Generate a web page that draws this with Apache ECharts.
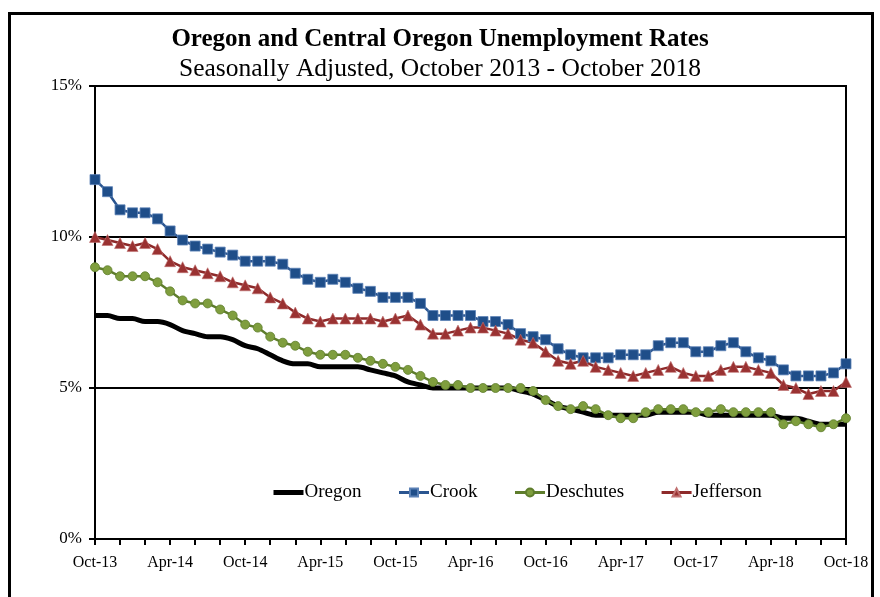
<!DOCTYPE html>
<html><head><meta charset="utf-8">
<script src="https://cdn.jsdelivr.net/npm/echarts@6/dist/echarts.min.js"></script>
<style>html,body{margin:0;padding:0;background:#fff}#c{width:880px;height:597px}</style>
</head><body><div id="c"></div>
<script>
const months = ["Oct-13","Nov-13","Dec-13","Jan-14","Feb-14","Mar-14","Apr-14","May-14","Jun-14","Jul-14","Aug-14","Sep-14",
"Oct-14","Nov-14","Dec-14","Jan-15","Feb-15","Mar-15","Apr-15","May-15","Jun-15","Jul-15","Aug-15","Sep-15",
"Oct-15","Nov-15","Dec-15","Jan-16","Feb-16","Mar-16","Apr-16","May-16","Jun-16","Jul-16","Aug-16","Sep-16",
"Oct-16","Nov-16","Dec-16","Jan-17","Feb-17","Mar-17","Apr-17","May-17","Jun-17","Jul-17","Aug-17","Sep-17",
"Oct-17","Nov-17","Dec-17","Jan-18","Feb-18","Mar-18","Apr-18","May-18","Jun-18","Jul-18","Aug-18","Sep-18","Oct-18"];

const oregon = [7.4,7.4,7.3,7.3,7.2,7.2,7.1,6.9,6.8,6.7,6.7,6.6,
6.4,6.3,6.1,5.9,5.8,5.8,5.7,5.7,5.7,5.7,5.6,5.5,
5.4,5.2,5.1,5.0,5.0,5.0,5.0,5.0,5.0,5.0,4.9,4.8,
4.6,4.4,4.3,4.2,4.1,4.1,4.1,4.1,4.1,4.2,4.2,4.2,
4.2,4.1,4.1,4.1,4.1,4.1,4.1,4.0,4.0,3.9,3.8,3.8,3.8];

const crook = [11.9,11.5,10.9,10.8,10.8,10.6,10.2,9.9,9.7,9.6,9.5,9.4,
9.2,9.2,9.2,9.1,8.8,8.6,8.5,8.6,8.5,8.3,8.2,8.0,
8.0,8.0,7.8,7.4,7.4,7.4,7.4,7.2,7.2,7.1,6.8,6.7,
6.6,6.3,6.1,6.0,6.0,6.0,6.1,6.1,6.1,6.4,6.5,6.5,
6.2,6.2,6.4,6.5,6.2,6.0,5.9,5.6,5.4,5.4,5.4,5.5,5.8];

const deschutes = [9.0,8.9,8.7,8.7,8.7,8.5,8.2,7.9,7.8,7.8,7.6,7.4,
7.1,7.0,6.7,6.5,6.4,6.2,6.1,6.1,6.1,6.0,5.9,5.8,
5.7,5.6,5.4,5.2,5.1,5.1,5.0,5.0,5.0,5.0,5.0,4.9,
4.6,4.4,4.3,4.4,4.3,4.1,4.0,4.0,4.2,4.3,4.3,4.3,
4.2,4.2,4.3,4.2,4.2,4.2,4.2,3.8,3.9,3.8,3.7,3.8,4.0];

const jefferson = [10.0,9.9,9.8,9.7,9.8,9.6,9.2,9.0,8.9,8.8,8.7,8.5,
8.4,8.3,8.0,7.8,7.5,7.3,7.2,7.3,7.3,7.3,7.3,7.2,
7.3,7.4,7.1,6.8,6.8,6.9,7.0,7.0,6.9,6.8,6.6,6.5,
6.2,5.9,5.8,5.9,5.7,5.6,5.5,5.4,5.5,5.6,5.7,5.5,
5.4,5.4,5.6,5.7,5.7,5.6,5.5,5.1,5.0,4.8,4.9,4.9,5.2];

const titleText = "Oregon and Central Oregon Unemployment Rates";
const subtitleText = "Seasonally Adjusted, October 2013 - October 2018";
const seriesNames = ["Oregon","Crook","Deschutes","Jefferson"];

const FONT = "Liberation Serif";
const chart = echarts.init(document.getElementById('c'), null, {renderer:'canvas'});
chart.setOption({
  animation:false,
  backgroundColor:'#fff',
  graphic:[{type:'rect',shape:{x:9.5,y:13.5,width:863,height:600},style:{fill:'none',stroke:'#000',lineWidth:3},z:100}],
  title:[
    {text:titleText,left:'center',top:22,textStyle:{fontFamily:FONT,fontWeight:'bold',fontSize:25,color:'#000'}},
    {text:subtitleText,left:'center',top:51,textStyle:{fontFamily:FONT,fontWeight:'normal',fontSize:25.5,color:'#000'}}
  ],
  grid:{left:95,right:34,top:86,bottom:58,show:true,borderColor:'#000',borderWidth:2,backgroundColor:'transparent'},
  legend:{
    data:[
      {name:'Oregon',itemStyle:{opacity:0},lineStyle:{width:5,color:'#000'}},
      {name:'Crook',lineStyle:{width:3}},{name:'Deschutes',lineStyle:{width:3}},{name:'Jefferson',lineStyle:{width:3}}
    ],
    left:266,top:478,itemGap:36,itemWidth:30,itemHeight:10,
    textStyle:{fontFamily:FONT,fontSize:19,color:'#000',padding:[0,0,0,-4]}
  },
  xAxis:{
    type:'category',data:months,boundaryGap:false,
    axisLine:{lineStyle:{color:'#000',width:2}},
    axisTick:{show:true,interval:1,length:6,inside:false,lineStyle:{color:'#000',width:2}},
    axisLabel:{interval:5,color:'#000',fontFamily:FONT,fontSize:16,margin:16},
    splitLine:{show:false}
  },
  yAxis:{
    type:'value',min:0,max:15,interval:5,
    axisLine:{show:true,lineStyle:{color:'#000',width:2}},
    axisTick:{show:true,length:6,lineStyle:{color:'#000',width:2}},
    axisLabel:{formatter:'{value}%',color:'#000',fontFamily:FONT,fontSize:17,margin:13},
    splitLine:{show:true,lineStyle:{color:'#000',width:2}}
  },
  series:[
    {name:'Oregon',type:'line',data:oregon,smooth:0.3,showSymbol:false,symbol:'none',
     lineStyle:{color:'#000',width:5},itemStyle:{color:'#000'},z:2},
    {name:'Crook',type:'line',data:crook,symbol:'rect',symbolSize:10,showAllSymbol:true,
     lineStyle:{color:'#2a5590',width:2.5},itemStyle:{color:'#1f4e89',borderColor:'#5a80b5',borderWidth:0.8},z:3},
    {name:'Deschutes',type:'line',data:deschutes,symbol:'circle',symbolSize:9,showAllSymbol:true,
     lineStyle:{color:'#5e7d2c',width:2.5},itemStyle:{color:'#7f9e3e',borderColor:'#5e7d2c',borderWidth:0.8},z:3},
    {name:'Jefferson',type:'line',data:jefferson,symbol:'triangle',symbolSize:11,showAllSymbol:true,
     lineStyle:{color:'#8e2a2a',width:2.5},itemStyle:{color:'#9a3232',borderColor:'#c07070',borderWidth:0.6},z:3}
  ]
});
</script></body></html>
